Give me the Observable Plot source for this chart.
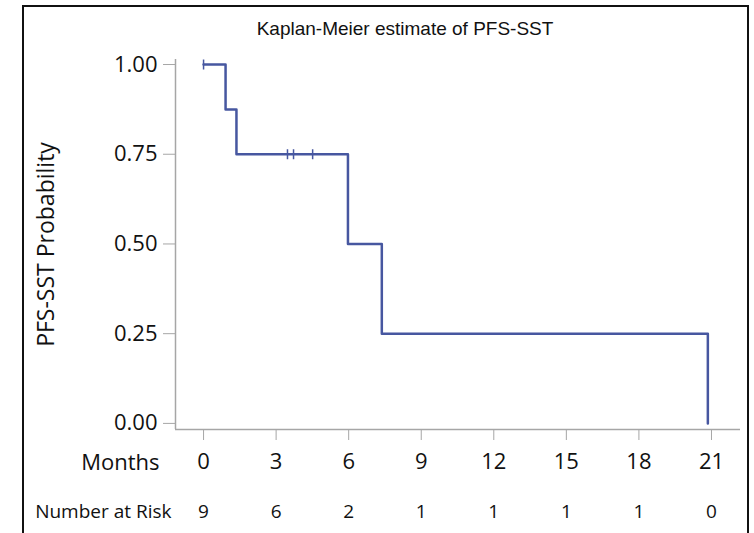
<!DOCTYPE html>
<html>
<head>
<meta charset="utf-8">
<script src="https://cdn.jsdelivr.net/npm/d3@7"></script>
<script src="https://cdn.jsdelivr.net/npm/@observablehq/plot@0.6"></script>
<style>
  html, body { margin: 0; padding: 0; background: #fff; }
  #wrap { position: relative; width: 754px; height: 533px; overflow: hidden; }
  #frame { position: absolute; left: 22px; top: 5px; width: 727px; height: 560px; border: 2px solid #111; box-sizing: border-box; }
  #title { position: absolute; left: 0; width: 810px; top: 18px; text-align: center; font-family: "Liberation Sans", Arial, sans-serif; font-size: 19px; color: #111; }
  #chart { position: absolute; left: 0; top: 0; }
</style>
</head>
<body>
<div id="wrap">
  <div id="frame"></div>
  <div id="title">Kaplan-Meier estimate of PFS-SST</div>
  <div id="chart"></div>
</div>
<script>
// Kaplan-Meier step curve (event times, survival after each step)
const stepTimes = [0, 0.91, 1.36, 5.97, 7.37, 20.85];
const stepSurvival = [1, 0.875, 0.75, 0.5, 0.25, 0];
// Censored observations
const censorTimes = [0, 3.47, 3.72, 4.51];
const censorSurvival = [1, 0.75, 0.75, 0.75];
// Axis ticks and number at risk
const xTicks = [0, 3, 6, 9, 12, 15, 18, 21];
const atRisk = [9, 6, 2, 1, 1, 1, 1, 0];
const yTicks = [0, 0.25, 0.5, 0.75, 1];

const curve = stepTimes.map((t, i) => ({t, s: stepSurvival[i]}));
const censors = censorTimes.map((t, i) => ({t, s: censorSurvival[i]}));
const risk = xTicks.map((t, i) => ({t, n: atRisk[i]}));

const lineColor = "#4757a0";
const axisColor = "#a6a6a6";
const font = "'Open Sans', 'DejaVu Sans', sans-serif";

const censorSymbol = {
  draw(context, size) {
    const r = Math.sqrt(size / Math.PI);
    context.moveTo(0, -r);
    context.lineTo(0, r);
  }
};

const plot = Plot.plot({
  width: 754,
  height: 533,
  marginLeft: 175,
  marginRight: 14,
  marginTop: 59,
  marginBottom: 104,
  style: {fontFamily: font, color: "#111", background: "transparent", overflow: "visible"},
  x: {domain: [-1.16, 22.2]},
  y: {domain: [-0.017, 1.014]},
  marks: [
    Plot.axisY({ticks: yTicks, tickFormat: d3.format(".2f"), tickSize: 12, tickPadding: 6, fontSize: 22, stroke: axisColor, label: null, color: "#111"}),
    Plot.axisX({ticks: xTicks, tickSize: 11, tickPadding: 13, fontSize: 22, stroke: axisColor, label: null, color: "#111"}),
    Plot.ruleX([-1.16], {stroke: axisColor, strokeWidth: 1.5}),
    Plot.ruleY([-0.017], {stroke: axisColor, strokeWidth: 1.5}),
    Plot.line(curve, {x: "t", y: "s", curve: "step-after", stroke: lineColor, strokeWidth: 2.5}),
    Plot.dot(censors, {x: "t", y: "s", symbol: censorSymbol, r: 5, stroke: lineColor, strokeWidth: 1.5, fill: "none"}),
    Plot.text(risk, {x: "t", text: "n", frameAnchor: "bottom", lineAnchor: "middle", dy: 82, fontSize: 19, fill: "#111"}),
    Plot.text(["Months"], {frameAnchor: "bottom-left", lineAnchor: "middle", dx: -16, dy: 33, textAnchor: "end", fontSize: 22, fill: "#111"}),
    Plot.text(["Number at Risk"], {frameAnchor: "bottom-left", lineAnchor: "middle", dx: -4, dy: 82, textAnchor: "end", fontSize: 19, fill: "#111"}),
    Plot.text(["PFS-SST Probability"], {frameAnchor: "left", textAnchor: "middle", lineAnchor: "middle", dx: -129, rotate: -90, fontSize: 23, fill: "#111"})
  ]
});
document.getElementById("chart").appendChild(plot);
</script>
</body>
</html>
